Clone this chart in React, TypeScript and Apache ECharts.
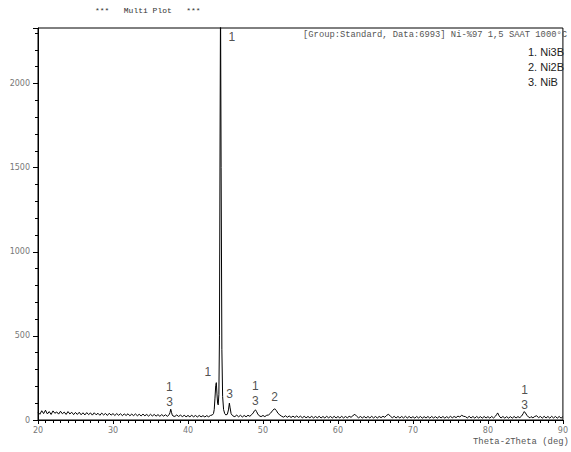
import React, { useEffect, useRef } from "react";
import * as echarts from "echarts";

// 2-theta (deg) / intensity (counts) pairs
const scan: [number, number][] = [
  [20, 46], [20.25, 34], [20.5, 55], [20.75, 38], [21, 58], [21.25, 36], [21.5, 50], [21.75, 33],
  [22, 54], [22.25, 40], [22.5, 48], [22.75, 35], [23, 52], [23.25, 37], [23.5, 47], [23.75, 33],
  [24, 50], [24.25, 36], [24.5, 46], [24.75, 32], [25, 45], [25.25, 33], [25.5, 46], [25.75, 31],
  [26, 43], [26.25, 30], [26.5, 44], [26.75, 32], [27, 42], [27.25, 29], [27.5, 43], [27.75, 31],
  [28, 40], [28.25, 28], [28.5, 41], [28.75, 30], [29, 39], [29.25, 27], [29.5, 40], [29.75, 29],
  [30, 38], [30.25, 27], [30.5, 38], [30.75, 28], [31, 37], [31.25, 26], [31.5, 36], [31.75, 27],
  [32, 37], [32.25, 25], [32.5, 35], [32.75, 26], [33, 36], [33.25, 25], [33.5, 34], [33.75, 24],
  [34, 35], [34.25, 25], [34.5, 33], [34.75, 23], [35, 34], [35.25, 24], [35.5, 33], [35.75, 23],
  [36, 32], [36.25, 22], [36.5, 32], [36.75, 23], [37, 31], [37.25, 22], [37.5, 32], [37.6, 44],
  [37.7, 64], [37.8, 46], [37.9, 30], [38, 24], [38.25, 21], [38.5, 30], [38.75, 21], [39, 29],
  [39.25, 20], [39.5, 28], [39.75, 19], [40, 27], [40.25, 19], [40.5, 28], [40.75, 19], [41, 27],
  [41.25, 18], [41.5, 27], [41.75, 19], [42, 26], [42.25, 18], [42.5, 26], [42.75, 19], [43, 27],
  [43.25, 30], [43.4, 38], [43.5, 62], [43.6, 130], [43.7, 205], [43.78, 222], [43.86, 160],
  [43.95, 100], [44.03, 90], [44.12, 150], [44.2, 500], [44.28, 1700], [44.34, 2500], [44.42, 1500],
  [44.52, 420], [44.62, 140], [44.75, 62], [44.9, 38], [45.05, 30], [45.25, 34], [45.4, 60],
  [45.52, 100], [45.62, 72], [45.75, 38], [45.9, 28], [46, 24], [46.25, 20], [46.5, 29], [46.75, 19],
  [47, 28], [47.25, 18], [47.5, 27], [47.75, 19], [48, 28], [48.25, 22], [48.5, 32], [48.7, 42],
  [48.85, 54], [49, 60], [49.15, 50], [49.3, 36], [49.5, 25], [49.75, 20], [50, 27], [50.25, 20],
  [50.5, 28], [50.75, 30], [51, 40], [51.25, 54], [51.5, 66], [51.65, 64], [51.8, 55], [52, 40],
  [52.25, 30], [52.5, 22], [52.75, 17], [53, 25], [53.25, 16], [53.5, 24], [53.75, 15], [54, 23],
  [54.25, 15], [54.5, 24], [54.75, 15], [55, 23], [55.25, 13], [55.5, 22], [55.75, 13], [56, 21],
  [56.25, 13], [56.5, 22], [56.75, 12], [57, 21], [57.25, 13], [57.5, 22], [57.75, 12], [58, 21],
  [58.25, 12], [58.5, 22], [58.75, 13], [59, 21], [59.25, 12], [59.5, 22], [59.75, 12], [60, 21],
  [60.25, 12], [60.5, 22], [60.75, 12], [61, 21], [61.25, 13], [61.5, 22], [61.75, 16], [62, 26],
  [62.25, 34], [62.5, 22], [62.75, 13], [63, 21], [63.25, 12], [63.5, 21], [63.75, 12], [64, 21],
  [64.25, 12], [64.5, 22], [64.75, 12], [65, 21], [65.25, 12], [65.5, 21], [65.75, 14], [66, 22],
  [66.25, 16], [66.5, 28], [66.75, 34], [67, 22], [67.25, 13], [67.5, 22], [67.75, 12], [68, 21],
  [68.25, 12], [68.5, 21], [68.75, 12], [69, 22], [69.25, 12], [69.5, 21], [69.75, 12], [70, 20],
  [70.25, 11], [70.5, 21], [70.75, 12], [71, 21], [71.25, 11], [71.5, 20], [71.75, 12], [72, 21],
  [72.25, 11], [72.5, 21], [72.75, 12], [73, 20], [73.25, 11], [73.5, 21], [73.75, 12], [74, 21],
  [74.25, 11], [74.5, 20], [74.75, 12], [75, 22], [75.25, 13], [75.5, 21], [75.75, 14], [76, 23],
  [76.25, 18], [76.5, 28], [76.75, 22], [77, 20], [77.25, 12], [77.5, 22], [77.75, 12], [78, 21],
  [78.25, 11], [78.5, 21], [78.75, 12], [79, 20], [79.25, 11], [79.5, 21], [79.75, 12], [80, 20],
  [80.25, 11], [80.5, 21], [80.75, 12], [81, 22], [81.15, 32], [81.3, 42], [81.45, 28], [81.6, 18],
  [81.75, 12], [82, 21], [82.25, 11], [82.5, 20], [82.75, 11], [83, 20], [83.25, 11], [83.5, 21],
  [83.75, 12], [84, 20], [84.25, 14], [84.5, 24], [84.7, 38], [84.85, 50], [85, 42], [85.2, 28],
  [85.4, 18], [85.6, 13], [85.75, 20], [86, 13], [86.25, 21], [86.5, 25], [86.75, 14], [87, 21],
  [87.25, 11], [87.5, 22], [87.75, 12], [88, 21], [88.25, 11], [88.5, 22], [88.75, 12], [89, 21],
  [89.25, 11], [89.5, 21], [89.75, 11], [90, 20],
];

// peak annotations (phase numbers)
const peakLabelX = [45.86, 42.66, 37.5, 37.55, 45.55, 49.0, 49.0, 51.55, 84.9, 84.9];
const peakLabelY = [2278, 284, 195, 105, 155, 204, 115, 135, 179, 89];
const peakLabelText = ["1", "1", "1", "3", "3", "1", "3", "2", "1", "3"];

const phaseLegend = ["1. Ni3B", "2. Ni2B", "3. NiB"];
const headerText = "[Group:Standard, Data:6993] Ni-%97 1,5 SAAT 1000°C";
const plotTitle = "***   Multi Plot   ***";
const xAxisTitle = "Theta-2Theta (deg)";

const X_MIN = 20;
const X_MAX = 90;
const Y_MIN = 0;
const Y_MAX = 2330;

export default function App() {
  const ref = useRef<HTMLDivElement>(null);
  useEffect(() => {
    if (!ref.current) return;
    const chart = echarts.init(ref.current, undefined, { renderer: "svg" });
    const labelFont = "DejaVu Sans";
    const mono = "Liberation Mono";
    chart.setOption({
      animation: false,
      backgroundColor: "#fff",
      grid: {
        left: 38,
        right: 2,
        top: 28,
        bottom: 32,
        show: true,
        borderColor: "#000",
        borderWidth: 1,
        backgroundColor: "transparent",
      },
      xAxis: {
        type: "value",
        min: X_MIN,
        max: X_MAX,
        interval: 10,
        axisLine: { show: true, lineStyle: { color: "#000", width: 1 } },
        axisTick: { show: true, length: 4, lineStyle: { color: "#000" } },
        minorTick: { show: true, splitNumber: 10, length: 3, lineStyle: { color: "#000" } },
        splitLine: { show: false },
        axisLabel: { color: "#777", fontSize: 8, fontFamily: labelFont, margin: 6 },
      },
      yAxis: [
        {
          type: "value",
          position: "left",
          min: Y_MIN,
          max: Y_MAX,
          interval: 100,
          axisLine: { show: true, lineStyle: { color: "#000", width: 1 } },
          axisTick: { show: true, length: 3, lineStyle: { color: "#000" } },
          splitLine: { show: false },
          axisLabel: {
            color: "#777",
            fontSize: 8,
            fontFamily: labelFont,
            margin: 8,
            showMaxLabel: false,
            formatter: (v: number) => (v % 500 === 0 ? String(v) : ""),
          },
        },
        {
          type: "value",
          position: "left",
          min: Y_MIN,
          max: Y_MAX,
          interval: 500,
          axisLine: { show: false },
          axisTick: { show: true, length: 5, lineStyle: { color: "#000" } },
          splitLine: { show: false },
          axisLabel: { show: false },
        },
      ],
      series: [
        {
          type: "line",
          data: scan,
          showSymbol: false,
          symbol: "none",
          clip: true,
          lineStyle: { color: "#000", width: 1 },
          silent: true,
        },
        {
          type: "scatter",
          data: peakLabelX.map((x, i) => ({ value: [x, peakLabelY[i]], name: peakLabelText[i] })),
          symbolSize: 1,
          itemStyle: { color: "rgba(0,0,0,0)" },
          label: {
            show: true,
            position: "inside",
            formatter: (p: any) => p.name,
            color: "#222",
            fontSize: 12,
            fontFamily: "Liberation Sans",
            textBorderWidth: 0,
          },
          silent: true,
        },
      ],
      graphic: [
        {
          type: "text",
          left: 95,
          top: 6,
          style: { text: plotTitle, font: `8px "${mono}"`, fill: "#333" },
        },
        {
          type: "text",
          right: 4,
          top: 30,
          style: { text: headerText, font: `8.8px "${mono}"`, fill: "#555" },
        },
        ...phaseLegend.map((t, i) => ({
          type: "text",
          left: 528,
          top: 46 + i * 15,
          style: { text: t, font: `11px "Liberation Sans"`, fill: "#222" },
        })),
        {
          type: "text",
          left: 473,
          top: 437,
          style: { text: xAxisTitle, font: `8.9px "${mono}"`, fill: "#555" },
        },
      ],
    });
    return () => chart.dispose();
  }, []);
  return (
    <div
      ref={ref}
      style={{ position: "fixed", left: 0, top: 0, width: 571, height: 452 }}
    />
  );
}
